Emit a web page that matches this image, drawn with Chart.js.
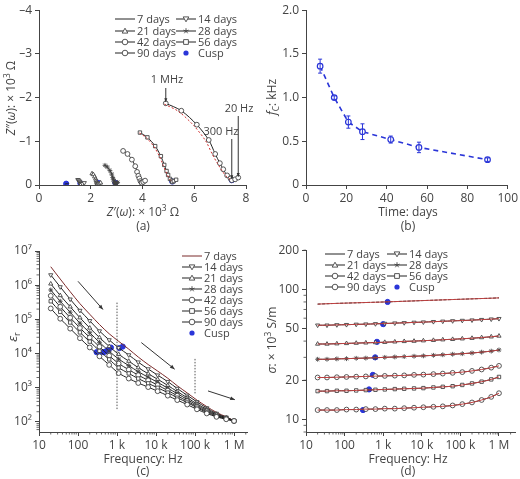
<!DOCTYPE html>
<html><head><meta charset="utf-8">
<script src="https://cdn.jsdelivr.net/npm/chart.js@4.4.1/dist/chart.umd.min.js"></script>
<style>
body{margin:0;background:#fff;width:520px;height:479px;position:relative;overflow:hidden}
canvas{position:absolute}
</style></head><body>
<canvas id="ca" style="left:0;top:0;width:260px;height:240px" width="260" height="240"></canvas>
<canvas id="cb" style="left:260px;top:0;width:260px;height:240px" width="260" height="240"></canvas>
<canvas id="cc" style="left:0;top:240px;width:260px;height:239px" width="260" height="239"></canvas>
<canvas id="cd" style="left:260px;top:240px;width:260px;height:239px" width="260" height="239"></canvas>
<script>
// ---------- DATA ----------
const seriesNames = ['7 days','14 days','21 days','28 days','42 days','56 days','90 days'];
const ages = [7,14,21,28,42,56,90];
// (a) Nyquist: Z' (×10^3 Ω) and Z'' (×10^3 Ω)
const nyqX7  = [1.00,1.05,1.10,1.15];
const nyqY7  = [-0.02,-0.03,-0.03,-0.04];
const nyqX14 = [1.50,1.53,1.56,1.58,1.59,1.60,1.60,1.61,1.62,1.62,1.68,1.75];
const nyqY14 = [-0.12,-0.11,-0.09,-0.07,-0.05,-0.03,-0.02,-0.02,-0.01,-0.01,-0.03,-0.05];
const nyqX21 = [2.05,2.10,2.15,2.19,2.21,2.23,2.24,2.25,2.27,2.27,2.32,2.38];
const nyqY21 = [-0.26,-0.24,-0.19,-0.14,-0.10,-0.07,-0.05,-0.03,-0.02,-0.02,-0.03,-0.05];
const nyqX28 = [2.55,2.64,2.74,2.81,2.85,2.88,2.90,2.92,2.94,2.95,2.99,3.04];
const nyqY28 = [-0.45,-0.41,-0.33,-0.25,-0.17,-0.12,-0.09,-0.05,-0.04,-0.03,-0.04,-0.06];
const nyqX42 = [3.25,3.42,3.59,3.72,3.79,3.84,3.88,3.92,3.96,3.97,4.03,4.10];
const nyqY42 = [-0.78,-0.71,-0.58,-0.43,-0.30,-0.21,-0.15,-0.09,-0.06,-0.05,-0.07,-0.10];
const nyqX56 = [3.90,4.19,4.49,4.71,4.84,4.93,4.99,5.06,5.13,5.15,5.21,5.30];
const nyqY56 = [-1.20,-1.09,-0.89,-0.66,-0.46,-0.32,-0.23,-0.14,-0.10,-0.07,-0.09,-0.12];
const nyqX90 = [4.90,5.50,6.10,6.56,6.81,6.99,7.12,7.27,7.40,7.45,7.58,7.70];
const nyqY90 = [-1.87,-1.70,-1.38,-1.03,-0.71,-0.50,-0.36,-0.22,-0.15,-0.11,-0.13,-0.17];
const fitX90 = [4.85,5.40,5.98,6.44,6.70,6.90,7.05,7.22,7.37,7.45];
const fitY90 = [-1.85,-1.68,-1.36,-1.01,-0.70,-0.49,-0.35,-0.21,-0.14,-0.11];
const fitX56 = [3.88,4.15,4.44,4.66,4.80,4.90,4.97,5.05,5.12,5.15];
const fitY56 = [-1.19,-1.08,-0.88,-0.65,-0.45,-0.31,-0.22,-0.13,-0.09,-0.07];
const cuspNyqX = [1.05,1.60,2.28,2.95,3.97,5.15,7.45];
const cuspNyqY = [-0.03,-0.04,-0.05,-0.05,-0.07,-0.08,-0.11];
// (b) cusp frequency vs time
const fcDays = [7,14,21,28,42,56,90];
const fcKHz  = [1.36,1.00,0.72,0.61,0.52,0.43,0.29];
const fcErr  = [0.08,0.02,0.07,0.09,0.04,0.06,0.02];
// (c),(d) frequency grid (Hz)
const freqs = [20,35,63,112,200,355,630,1100,2000,3500,6300,11000,20000,35000,63000,112000,200000,355000,630000,1000000];
// (c) log10(εr)
const epsLog = [
 [6.54,6.18,5.81,5.46,5.15,4.85,4.58,4.36,4.13,3.90,3.68,3.49,3.28,3.06,2.85,2.64,2.45,2.28,2.15,2.04],
 [6.30,5.95,5.59,5.26,4.96,4.66,4.40,4.17,3.96,3.75,3.55,3.37,3.18,2.98,2.78,2.59,2.41,2.25,2.14,2.04],
 [6.04,5.70,5.37,5.05,4.75,4.47,4.21,3.98,3.78,3.59,3.41,3.25,3.07,2.89,2.71,2.53,2.37,2.23,2.12,2.04],
 [5.86,5.53,5.21,4.89,4.61,4.33,4.07,3.84,3.65,3.47,3.31,3.16,2.99,2.83,2.66,2.49,2.34,2.21,2.11,2.03],
 [5.69,5.37,5.05,4.75,4.47,4.20,3.94,3.71,3.53,3.37,3.22,3.08,2.92,2.77,2.61,2.45,2.31,2.19,2.10,2.03],
 [5.53,5.22,4.91,4.62,4.35,4.08,3.83,3.59,3.42,3.27,3.13,3.00,2.86,2.71,2.57,2.42,2.28,2.17,2.09,2.03],
 [5.32,5.02,4.73,4.45,4.18,3.92,3.67,3.43,3.27,3.14,3.02,2.90,2.77,2.64,2.51,2.37,2.25,2.15,2.08,2.03]
];
const cuspEpsF = [300,350,450,500,600,700,1150,1400];
const cuspEpsV = [11000,10500,11000,11500,13000,15000,14500,16000];
// (d) σ (×10^3 S/m)
const sigma = [
 [77,77.5,78,78.4,78.8,79.2,79.6,80,80.5,81,81.5,82,82.5,83,83.5,84,84.5,85,85.5,86],
 [53,53,53.3,53.5,53.8,54,54.3,54.6,55,55.3,55.7,56,56.4,56.8,57.2,57.6,58,58.5,59,59.5],
 [38,38,38.2,38.4,38.6,38.8,39,39.2,39.5,39.8,40,40.3,40.6,41,41.3,41.7,42.1,42.6,43.2,43.8],
 [29,29,29.2,29.3,29.5,29.6,29.8,30,30.2,30.4,30.6,30.8,31.1,31.4,31.7,32,32.4,32.9,33.5,34.2],
 [21,21,21.1,21.2,21.3,21.4,21.5,21.6,21.7,21.8,22,22.1,22.3,22.5,22.8,23.1,23.6,24.2,25,25.8],
 [16.5,16.5,16.6,16.6,16.7,16.8,16.9,17,17.1,17.2,17.3,17.4,17.6,17.8,18,18.4,18.9,19.5,20.3,21.2],
 [11.8,11.8,11.8,11.9,11.9,12,12,12.1,12.1,12.2,12.3,12.4,12.5,12.6,12.8,13.1,13.5,14.1,14.9,15.9]
];
const cuspSigF = [1300,1000,690,620,540,430,300];
const cuspSigV = [80,54,39.5,30,22,17,11.8];
// tick labels
const freqTicks = [10,100,1000,10000,100000,1000000];
const freqLabels = ['10','100','1 k','10 k','100 k','1 M'];
const epsTicks = [1e2,1e3,1e4,1e5,1e6,1e7];
const epsLabels = ['10²','10³','10⁴','10⁵','10⁶','10⁷'];
const sigTicks = [10,20,50,100,200];
const sigLabels = ['10','20','50','100','200'];

// ---------- STYLE ----------
const FONT = '"Open Sans", "Noto Sans", sans-serif';
const TXT = '#444';
const markers = [null,'triangleDown','triangle','star','circle','rect','circle'];
const CUSP = '#2a35d8';
Chart.defaults.font.family = FONT;
Chart.defaults.color = TXT;
Chart.defaults.animation = false;

function ptStyle(m){ return m==='triangleDown'?'triangle':(m||'circle'); }
function ptRot(m){ return m==='triangleDown'?180:0; }
function seriesDS(i, data, r, lineColor){
  const m = markers[i];
  return {label:seriesNames[i], data, showLine:true, borderColor:lineColor||'#222', borderWidth:1,
    pointStyle:ptStyle(m), rotation:ptRot(m), pointRadius:m?r:0, pointBorderColor:'#444',
    pointBackgroundColor:'#fff', pointBorderWidth:0.9, tension:0.3};
}
function drawMarker(ctx,m,x,y,r,fill,stroke){
  ctx.save(); ctx.beginPath(); ctx.lineWidth=0.9; ctx.strokeStyle=stroke; ctx.fillStyle=fill;
  if(m==='circle'){ctx.arc(x,y,r,0,Math.PI*2);ctx.fill();ctx.stroke();}
  else if(m==='rect'){ctx.rect(x-r*0.85,y-r*0.85,r*1.7,r*1.7);ctx.fill();ctx.stroke();}
  else if(m==='triangle'){ctx.moveTo(x,y-r);ctx.lineTo(x+r,y+r*0.75);ctx.lineTo(x-r,y+r*0.75);ctx.closePath();ctx.fill();ctx.stroke();}
  else if(m==='triangleDown'){ctx.moveTo(x,y+r);ctx.lineTo(x+r,y-r*0.75);ctx.lineTo(x-r,y-r*0.75);ctx.closePath();ctx.fill();ctx.stroke();}
  else if(m==='star'){for(let k=0;k<5;k++){const a=-Math.PI/2+k*2*Math.PI/5;ctx.moveTo(x,y);ctx.lineTo(x+r*Math.cos(a),y+r*Math.sin(a));}ctx.stroke();}
  else if(m==='dot'){ctx.arc(x,y,r,0,Math.PI*2);ctx.fillStyle=CUSP;ctx.fill();}
  ctx.restore();
}
function richText(ctx, segs, x, y, size, rot){
  ctx.save(); ctx.translate(x,y); if(rot) ctx.rotate(rot);
  ctx.fillStyle=TXT; ctx.textBaseline='alphabetic';
  const fnt=(s)=>(s.i?'italic ':'')+((s.sup||s.sub)?size*0.7:size)+'px '+FONT;
  let w=0; segs.forEach(s=>{ctx.font=fnt(s); w+=ctx.measureText(s.t).width;});
  let cx=-w/2; const base=size*0.35;
  segs.forEach(s=>{ctx.font=fnt(s); const dy=s.sup?-size*0.4:(s.sub?size*0.25:0);
    ctx.fillText(s.t,cx,base+dy); cx+=ctx.measureText(s.t).width;});
  ctx.restore();
}
function legendPlugin(items){
  return {id:'lg', afterDraw(chart){const ctx=chart.ctx;
    items.forEach(it=>{ctx.save();
      if(it.line!==false){ctx.strokeStyle=it.color||'#222';ctx.lineWidth=1;ctx.beginPath();ctx.moveTo(it.x,it.y);ctx.lineTo(it.x+20,it.y);ctx.stroke();}
      if(it.m) drawMarker(ctx,it.m,it.x+10,it.y,it.m==='dot'?2.6:2.8,'#fff','#444');
      ctx.fillStyle=TXT;ctx.font='11px '+FONT;ctx.textBaseline='middle';ctx.fillText(it.label,it.x+22,it.y+0.5);ctx.restore();});}};
}
function textPlugin(draws){ return {id:'tx', afterDraw(chart){draws(chart.ctx,chart);}}; }
function minorLog(axis, vmin, vmax){ return {id:'mn'+axis, afterDraw(chart){const s=chart.scales[axis],ctx=chart.ctx;ctx.save();ctx.strokeStyle='#444';ctx.lineWidth=0.8;
  for(let d=Math.floor(Math.log10(vmin));d<=Math.ceil(Math.log10(vmax));d++){for(let k=2;k<10;k++){const v=k*Math.pow(10,d);if(v<vmin||v>vmax)continue;const p=s.getPixelForValue(v);ctx.beginPath();
    if(axis==='x'){ctx.moveTo(p,s.top);ctx.lineTo(p,s.top+2.5);}else{ctx.moveTo(s.right,p);ctx.lineTo(s.right-2.5,p);}ctx.stroke();}}ctx.restore();}};}
function arrow(ctx,x1,y1,x2,y2,h){ctx.save();ctx.strokeStyle='#333';ctx.fillStyle='#333';ctx.lineWidth=1;ctx.beginPath();ctx.moveTo(x1,y1);ctx.lineTo(x2,y2);ctx.stroke();
  const a=Math.atan2(y2-y1,x2-x1);h=h||5;ctx.beginPath();ctx.moveTo(x2,y2);ctx.lineTo(x2-h*Math.cos(a-0.4),y2-h*Math.sin(a-0.4));ctx.lineTo(x2-h*Math.cos(a+0.4),y2-h*Math.sin(a+0.4));ctx.closePath();ctx.fill();ctx.restore();}
const axisGrid = {drawOnChartArea:false, drawTicks:true, tickLength:4, color:'#444'};
const axisBorder = {display:true, color:'#444', width:1};
function baseOpts(pad, yW, xH){
  return {responsive:false, animation:false, layout:{padding:pad},
    plugins:{legend:{display:false}, tooltip:{enabled:false}},
    scales:{x:{border:axisBorder, grid:axisGrid, ticks:{font:{size:12}, color:TXT, maxRotation:0, padding:2}, afterFit:s=>{s.height=xH;}},
            y:{border:axisBorder, grid:axisGrid, ticks:{font:{size:12}, color:TXT, padding:3}, afterFit:s=>{s.width=yW;}}}};
}
const xy=(xs,ys)=>xs.map((v,i)=>({x:v,y:ys[i]}));

// ---------- (a) ----------
{
  const o = baseOpts({top:7,right:14,left:0,bottom:0}, 39, 55);
  Object.assign(o.scales.x,{type:'linear',min:0,max:8});
  o.scales.x.ticks.stepSize=2;
  Object.assign(o.scales.y,{type:'linear',min:-4,max:0,reverse:true});
  o.scales.y.ticks.stepSize=1; o.scales.y.ticks.callback=v=>v===0?'0':'\u2013'+Math.abs(v);
  const nx=[nyqX7,nyqX14,nyqX21,nyqX28,nyqX42,nyqX56,nyqX90], ny=[nyqY7,nyqY14,nyqY21,nyqY28,nyqY42,nyqY56,nyqY90];
  const ds=[
    {data:xy(fitX90,fitY90),showLine:true,borderColor:'#d03030',borderDash:[2,2],borderWidth:1,pointRadius:0,tension:0.3},
    {data:xy(fitX56,fitY56),showLine:true,borderColor:'#d03030',borderDash:[2,2],borderWidth:1,pointRadius:0,tension:0.3}];
  for(let i=0;i<7;i++) ds.push(seriesDS(i, xy(nx[i],ny[i]), 2.4));
  ds.push({label:'Cusp',data:xy(cuspNyqX,cuspNyqY),showLine:false,pointRadius:2.6,pointBackgroundColor:CUSP,pointBorderColor:CUSP});
  const lg=[];
  const colX=[115,176], rowY=[19,31,42,53];
  seriesNames.forEach((n,i)=>lg.push({label:n,m:markers[i],x:colX[i%2],y:rowY[Math.floor(i/2)]}));
  lg.push({label:'Cusp',m:'dot',line:false,x:colX[1],y:rowY[3]});
  new Chart(document.getElementById('ca'),{type:'scatter',data:{datasets:ds},options:o,
    plugins:[legendPlugin(lg),textPlugin((ctx,ch)=>{
      const X=ch.scales.x,Y=ch.scales.y,px=v=>X.getPixelForValue(v),py=v=>Y.getPixelForValue(v);
      ctx.save();ctx.fillStyle=TXT;ctx.font='11px '+FONT;ctx.textAlign='center';
      ctx.fillText('1 MHz',167,83);ctx.fillText('300 Hz',221,135);ctx.fillText('20 Hz',239,112);ctx.restore();
      arrow(ctx,px(4.9),88,px(4.9),py(-1.9),4);
      arrow(ctx,px(7.45),139,px(7.45),py(-0.14),4);
      arrow(ctx,px(7.7),116,px(7.7),py(-0.19),4);
      richText(ctx,[{t:'Z',i:1},{t:'\u2032('},{t:'\u03c9',i:1},{t:'): \u00d7 10'},{t:'3',sup:1},{t:' \u03a9'}],143,212,12);
      richText(ctx,[{t:'Z',i:1},{t:'\u2033('},{t:'\u03c9',i:1},{t:'): \u00d7 10'},{t:'3',sup:1},{t:' \u03a9'}],11,98,12,-Math.PI/2);
      richText(ctx,[{t:'(a)'}],143,226,12);
    })]});
}
// ---------- (b) ----------
{
  const o = baseOpts({top:6,right:9,left:0,bottom:0}, 46, 55);
  Object.assign(o.scales.x,{type:'linear',min:0,max:100}); o.scales.x.ticks.stepSize=20;
  Object.assign(o.scales.y,{type:'linear',min:0,max:2}); o.scales.y.ticks.stepSize=0.5;
  o.scales.y.ticks.callback=v=>v===0?'0':v.toFixed(1);
  const ds=[{data:xy(fcDays,fcKHz),showLine:true,borderColor:CUSP,borderDash:[5,4],borderWidth:1.6,pointRadius:2.8,pointBorderColor:CUSP,pointBackgroundColor:'#fff',pointBorderWidth:1.2}];
  new Chart(document.getElementById('cb'),{type:'scatter',data:{datasets:ds},options:o,
    plugins:[{id:'err',afterDatasetsDraw(ch){const ctx=ch.ctx,X=ch.scales.x,Y=ch.scales.y;ctx.save();ctx.strokeStyle=CUSP;ctx.lineWidth=1;
      fcDays.forEach((d,i)=>{const x=X.getPixelForValue(d),y1=Y.getPixelForValue(fcKHz[i]+fcErr[i]),y2=Y.getPixelForValue(fcKHz[i]-fcErr[i]);
        ctx.beginPath();ctx.moveTo(x,y1);ctx.lineTo(x,y2);ctx.moveTo(x-2,y1);ctx.lineTo(x+2,y1);ctx.moveTo(x-2,y2);ctx.lineTo(x+2,y2);ctx.stroke();});ctx.restore();}},
    textPlugin(ctx=>{
      richText(ctx,[{t:'Time: days'}],148,212,12);
      richText(ctx,[{t:'(b)'}],148,226,12);
      richText(ctx,[{t:'f',i:1},{t:'C',sub:1},{t:': kHz'}],12,97,12,-Math.PI/2);
    })]});
}
// ---------- (c) ----------
{
  const o = baseOpts({top:11,right:13,left:0,bottom:0}, 39, 47);
  Object.assign(o.scales.x,{type:'logarithmic',min:10,max:2150000,afterBuildTicks:s=>{s.ticks=freqTicks.map(v=>({value:v}));}});
  o.scales.x.ticks.callback=(v,i)=>freqLabels[i];
  Object.assign(o.scales.y,{type:'logarithmic',min:51,max:1e7,afterBuildTicks:s=>{s.ticks=epsTicks.map(v=>({value:v}));}});
  o.scales.y.ticks.callback=(v,i)=>epsLabels[i];
  const ds=[];
  for(let i=6;i>=0;i--) ds.push(seriesDS(i, freqs.map((f,k)=>({x:f,y:Math.pow(10,epsLog[i][k])})), 2.4, i===0?'#7a2a2a':'#222'));
  ds.push({label:'Cusp',data:xy(cuspEpsF,cuspEpsV),showLine:false,pointRadius:2.6,pointBackgroundColor:CUSP,pointBorderColor:CUSP});
  const lg=seriesNames.map((n,i)=>({label:n,m:markers[i],x:182,y:16+i*11,color:i===0?'#7a2a2a':'#222'}));
  lg.push({label:'Cusp',m:'dot',line:false,x:182,y:16+7*11});
  new Chart(document.getElementById('cc'),{type:'scatter',data:{datasets:ds},options:o,
    plugins:[minorLog('x',10,2150000),minorLog('y',51,1e7),legendPlugin(lg),textPlugin((ctx,ch)=>{
      const X=ch.scales.x,Y=ch.scales.y,px=v=>X.getPixelForValue(v),py=v=>Y.getPixelForValue(v);
      ctx.save();ctx.strokeStyle='#555';ctx.setLineDash([1.5,1.5]);ctx.lineWidth=1;ctx.beginPath();
      ctx.moveTo(px(1000),py(3.1e5));ctx.lineTo(px(1000),py(220));
      ctx.moveTo(px(100000),py(7e3));ctx.lineTo(px(100000),py(680));ctx.stroke();ctx.restore();
      arrow(ctx,px(100),py(1.3e6),px(436),py(1.95e5),5);
      arrow(ctx,px(4200),py(2.1e4),px(30000),py(3500),5);
      arrow(ctx,px(215000),py(810),px(1050000),py(450),5);
      richText(ctx,[{t:'Frequency: Hz'}],143,219,12);
      richText(ctx,[{t:'(c)'}],143,231,12);
      richText(ctx,[{t:'\u03b5',i:1},{t:'r',sub:1}],12,97,13,-Math.PI/2);
    })]});
}
// ---------- (d) ----------
{
  const o = baseOpts({top:8,right:0,left:0,bottom:0}, 46, 47);
  Object.assign(o.scales.x,{type:'logarithmic',min:10,max:2600000,afterBuildTicks:s=>{s.ticks=freqTicks.map(v=>({value:v}));}});
  o.scales.x.ticks.callback=(v,i)=>freqLabels[i];
  Object.assign(o.scales.y,{type:'logarithmic',min:8,max:200,afterBuildTicks:s=>{s.ticks=sigTicks.map(v=>({value:v}));}});
  o.scales.y.ticks.callback=(v,i)=>sigLabels[i];
  const ds=[];
  for(let i=0;i<7;i++){
    ds.push({data:freqs.map((f,k)=>({x:f,y:sigma[i][k]})),showLine:true,borderColor:'#c04040',borderWidth:1,pointRadius:0,tension:0.3});
    const d=seriesDS(i, freqs.map((f,k)=>({x:f,y:sigma[i][k]})), 2.4); if(i===0){d.borderDash=[3,1.5];}
    ds.push(d);
  }
  ds.push({label:'Cusp',data:xy(cuspSigF,cuspSigV),showLine:false,pointRadius:2.6,pointBackgroundColor:CUSP,pointBorderColor:CUSP});
  const lg=[];const colX=[65,127],rowY=[14,25,36,47];
  seriesNames.forEach((n,i)=>lg.push({label:n,m:markers[i],x:colX[i%2],y:rowY[Math.floor(i/2)]}));
  lg.push({label:'Cusp',m:'dot',line:false,x:colX[1],y:rowY[3]});
  new Chart(document.getElementById('cd'),{type:'scatter',data:{datasets:ds},options:o,
    plugins:[minorLog('x',10,2600000),minorLog('y',8,200),legendPlugin(lg),textPlugin(ctx=>{
      richText(ctx,[{t:'Frequency: Hz'}],148,219,12);
      richText(ctx,[{t:'(d)'}],148,231,12);
      richText(ctx,[{t:'\u03c3',i:1},{t:': \u00d7 10'},{t:'3',sup:1},{t:' S/m'}],12,100,12,-Math.PI/2);
    })]});
}
</script></body></html>
